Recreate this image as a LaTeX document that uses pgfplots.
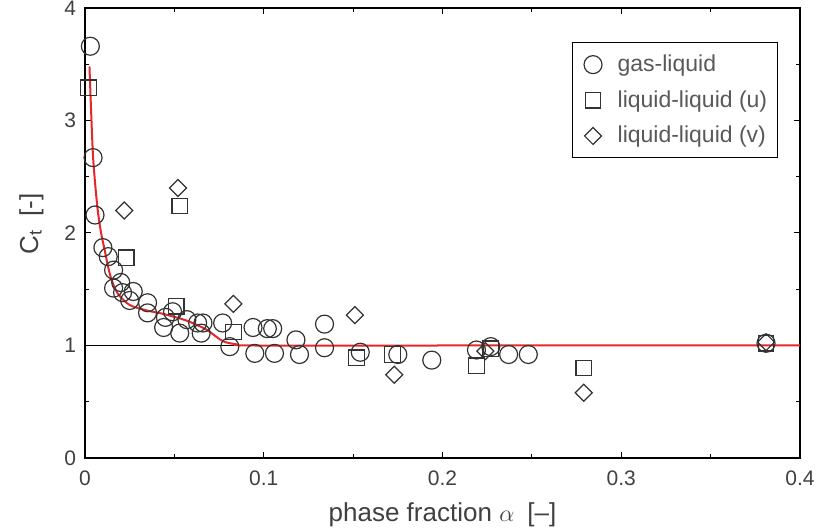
\documentclass[border=0pt]{standalone}
\usepackage{fontspec}
\setmainfont{Liberation Sans}
\usepackage{pgfplots}
\pgfplotsset{compat=1.18}
\definecolor{cMark}{HTML}{333333}
\definecolor{cFit}{HTML}{E8262A}

\begin{document}
\begin{tikzpicture}
\useasboundingbox (-42.5pt,-36pt) rectangle (367pt,229pt);
\begin{axis}[
  scale only axis, width=357.5pt, height=225pt,
  at={(0,0)}, anchor=south west,
  xmin=0, xmax=0.4, ymin=0, ymax=4,
  xtick={0,0.1,0.2,0.3,0.4}, ytick={0,1,2,3,4},
  minor xtick={0.05,0.15,0.25,0.35}, minor ytick={0.5,1.5,2.5,3.5},
  xticklabels={0,0.1,0.2,0.3,0.4},
  tick align=inside, major tick length=3pt, minor tick length=2pt,
  tick style={black, line width=0.5pt},
  axis line style={line width=0.6pt},
  ticklabel style={font=\fontsize{10.5}{12}\selectfont, text=black!75},
  /pgf/number format/assume math mode=true,
  xticklabel style={yshift=-3pt},
  yticklabel style={xshift=-1pt},
  xlabel={phase fraction $\alpha$\enspace[--]},
  ylabel={C$_\mathrm{t}$\enspace[-]},
  label style={font=\fontsize{13}{15}\selectfont, text=black!75},
  xlabel style={at={(axis description cs:0.5,-0.127)}, anchor=center},
  ylabel style={at={(axis description cs:-0.075,0.52)}, anchor=center},
  legend style={at={(rel axis cs:0.969,0.924)}, anchor=north east,
    font=\fontsize{11.5}{13}\selectfont, text=black!65, draw=black, line width=0.6pt,
    row sep=4pt, inner xsep=3pt, inner ysep=4pt},
  legend cell align=left,
  legend image code/.code={%
    \path (0pt,0pt) (17pt,0pt);
    \draw[#1] plot coordinates {(7pt,0pt)};},
]
\addplot[black, line width=0.5pt, forget plot] coordinates {(0,1) (0.4,1)};
\addplot[cFit, line width=1pt, smooth, forget plot] coordinates {
  (0.0025,3.48) (0.0035,3.05) (0.0045,2.68) (0.006,2.38) (0.0073,2.18)
  (0.009,2.0) (0.011,1.85) (0.014,1.63) (0.018,1.47) (0.025,1.36)
  (0.035,1.31) (0.044,1.28) (0.057,1.22) (0.068,1.14) (0.077,1.04)
  (0.085,1.01) (0.095,1.0) (0.2,1.0) (0.4,1.0)
};
\addplot[only marks, mark=o, mark size=4.5pt, cMark, mark options={line width=0.6pt}] coordinates {
  (0.003,3.66) (0.0045,2.67) (0.0056,2.16) (0.010,1.87) (0.013,1.79)
  (0.016,1.67) (0.016,1.51) (0.020,1.56) (0.021,1.47) (0.027,1.48)
  (0.025,1.40) (0.035,1.38) (0.035,1.29) (0.045,1.25) (0.044,1.16)
  (0.049,1.30) (0.053,1.11) (0.057,1.23) (0.063,1.20) (0.065,1.11)
  (0.066,1.20) (0.077,1.20) (0.081,0.99) (0.094,1.16) (0.102,1.15)
  (0.105,1.15) (0.095,0.93) (0.106,0.93) (0.118,1.05) (0.120,0.92)
  (0.134,1.19) (0.134,0.98) (0.154,0.94) (0.175,0.92) (0.194,0.87)
  (0.219,0.96) (0.227,0.99) (0.237,0.92) (0.248,0.92) (0.381,1.02)
};
\addlegendentry{gas-liquid}
\addplot[only marks, mark=square, mark size=3.9pt, cMark, mark options={line width=0.6pt}] coordinates {
  (0.002,3.29) (0.023,1.78) (0.053,2.24) (0.051,1.35) (0.083,1.12)
  (0.152,0.89) (0.172,0.92) (0.219,0.82) (0.227,0.97) (0.279,0.80)
  (0.381,1.02)
};
\addlegendentry{liquid-liquid (u)}
\addplot[only marks, mark=square, mark size=3pt, cMark, mark options={line width=0.6pt, rotate=45}] coordinates {
  (0.022,2.20) (0.052,2.40) (0.083,1.37) (0.151,1.27) (0.173,0.74)
  (0.224,0.95) (0.279,0.58) (0.381,1.03)
};
\addlegendentry{liquid-liquid (v)}
\end{axis}
\end{tikzpicture}
\end{document}
